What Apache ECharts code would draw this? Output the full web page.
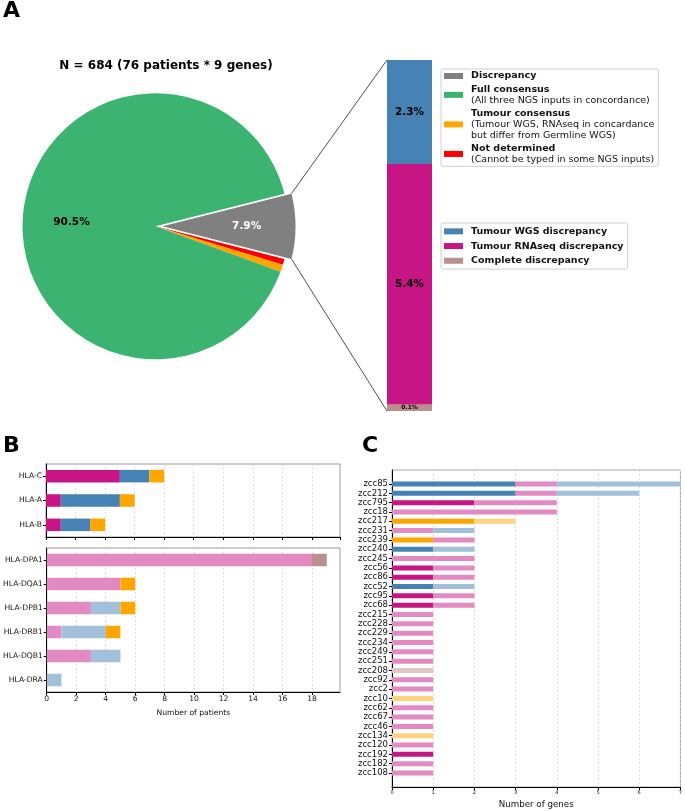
<!DOCTYPE html>
<html>
<head>
<meta charset="utf-8">
<script src="https://cdn.jsdelivr.net/npm/echarts@6/dist/echarts.min.js"></script>
<style>
html,body{margin:0;padding:0;background:#fff;}
#main{width:685px;height:811px;}
</style>
</head>
<body>
<div id="main"></div>
<script>
// ---------- Panel A data ----------
const pieNames = ['Discrepancy', 'Not determined', 'Tumour consensus', 'Full consensus'];
const pieValues = [54, 5, 6, 619];
const pieColors = ['#808080', '#FF0000', '#FFA500', '#3CB371'];
const pieLegendOrder = ['Discrepancy', 'Full consensus', 'Tumour consensus', 'Not determined'];
const pieSubtitles = {
  'Discrepancy': [],
  'Full consensus': ['(All three NGS inputs in concordance)'],
  'Tumour consensus': ['(Tumour WGS, RNAseq in concardance', 'but differ from Germline WGS)'],
  'Not determined': ['(Cannot be typed in some NGS inputs)']
};
const discNames = ['Complete discrepancy', 'Tumour RNAseq discrepancy', 'Tumour WGS discrepancy'];
const discValues = [1, 37, 16];
const discColors = ['#BC8F8F', '#C71585', '#4682B4'];
const totalN = 684;

// ---------- Panel B data ----------
const genesI = ['HLA-C', 'HLA-A', 'HLA-B'];
const bI_RNA = [5, 1, 1];
const bI_WGS = [2, 4, 2];
const bI_TC  = [1, 1, 1];
const genesII = ['HLA-DPA1', 'HLA-DQA1', 'HLA-DPB1', 'HLA-DRB1', 'HLA-DQB1', 'HLA-DRA'];
const bII_RNA = [18, 5, 3, 1, 3, 0];
const bII_WGS = [0, 0, 2, 3, 2, 1];
const bII_TC  = [0, 1, 1, 1, 0, 0];
const bII_CD  = [1, 0, 0, 0, 0, 0];

// ---------- Panel C data ----------
const patients = ['zcc85','zcc212','zcc795','zcc18','zcc217','zcc231','zcc239','zcc240','zcc245','zcc56','zcc86','zcc52','zcc95','zcc68','zcc215','zcc228','zcc229','zcc234','zcc249','zcc251','zcc208','zcc92','zcc2','zcc10','zcc62','zcc67','zcc46','zcc134','zcc120','zcc192','zcc182','zcc108'];
const cI_WGS  = [3,3,0,0,0,0,0,1,0,0,0,1,0,0,0,0,0,0,0,0,0,0,0,0,0,0,0,0,0,0,0,0];
const cI_RNA  = [0,0,2,0,0,0,0,0,0,1,1,0,1,1,0,0,0,0,0,0,0,0,0,0,0,0,0,0,0,1,0,0];
const cI_TC   = [0,0,0,0,2,0,1,0,0,0,0,0,0,0,0,0,0,0,0,0,0,0,0,0,0,0,0,0,0,0,0,0];
const cII_RNA = [1,1,2,4,0,1,1,0,2,1,1,0,1,1,1,1,1,1,1,1,0,1,1,0,1,1,1,0,1,0,1,1];
const cII_WGS = [3,2,0,0,0,1,0,1,0,0,0,1,0,0,0,0,0,0,0,0,0,0,0,0,0,0,0,0,0,0,0,0];
const cII_TC  = [0,0,0,0,1,0,0,0,0,0,0,0,0,0,0,0,0,0,0,0,0,0,0,1,0,0,0,1,0,0,0,0];
const cII_CD  = [0,0,0,0,0,0,0,0,0,0,0,0,0,0,0,0,0,0,0,0,1,0,0,0,0,0,0,0,0,0,0,0];

// ---------- styles ----------
const FONT = 'DejaVu Sans';
const C_WGS = '#4682B4', C_RNA = '#C71585', C_TC = '#FFA500', C_CD = '#BC8F8F';
const L_WGS = '#A2C0D9', L_RNA = '#E38AC2', L_TC = '#FFD27F', L_CD = '#DDC7C7';

const pieCenter = [155.5, 226.3];
const pieR = 133;
const discAngle = pieValues[0] / totalN * 360;
const startAng = discAngle / 2;
const explode = 7;
const pct = v => (v / totalN * 100).toFixed(1) + '%';

const pad = arr => [0].concat(arr, [0]);
const patCats = [''].concat(patients, ['']);

function gridAxisX(gi, max, showLabels, name) {
  return {
    type: 'value', gridIndex: gi, min: 0, max: max, interval: gi === 3 ? 1 : 2,
    axisLine: {show: true, onZero: false, lineStyle: {color: '#000', width: 1}},
    axisTick: {show: true, length: 3, lineStyle: {color: '#000'}},
    axisLabel: {show: showLabels, fontFamily: FONT, fontSize: gi === 3 ? 5 : 7.6, color: '#111', margin: 3, showMaxLabel: gi === 3},
    splitLine: {show: true, lineStyle: {color: '#d4d4d4', type: [2, 2], width: 0.8}},
    name: name || '', nameLocation: 'middle', nameGap: gi === 3 ? 13 : 17,
    nameTextStyle: {fontFamily: FONT, fontSize: gi === 3 ? 8.7 : 7.6, color: '#111'}
  };
}
function catAxisY(gi, data, fs) {
  return {
    type: 'category', gridIndex: gi, data: data, inverse: true,
    axisLine: {show: true, lineStyle: {color: '#000', width: 1}},
    axisTick: {show: true, length: 3, alignWithLabel: true, lineStyle: {color: '#000'},
      interval: (i, v) => v !== ''},
    axisLabel: {interval: 0, fontFamily: FONT, fontSize: fs, color: '#111', margin: 4},
    splitLine: {show: false}
  };
}

const option = {
  animation: false,
  backgroundColor: '#fff',
  textStyle: {fontFamily: FONT},
  title: [
    {text: 'A', left: 3, top: 0, padding: 0, textStyle: {fontFamily: FONT, fontSize: 22, fontWeight: 'bold', color: '#000'}},
    {text: 'B', left: 3, top: 435, padding: 0, textStyle: {fontFamily: FONT, fontSize: 22, fontWeight: 'bold', color: '#000'}},
    {text: 'C', left: 362, top: 435, padding: 0, textStyle: {fontFamily: FONT, fontSize: 22, fontWeight: 'bold', color: '#000'}},
    {text: 'N = ' + totalN + ' (76 patients * 9 genes)', left: 166, textAlign: 'center', top: 60, padding: 0,
      textStyle: {fontFamily: FONT, fontSize: 12, fontWeight: 'bold', color: '#000'}}
  ],
  legend: [
    {
      data: pieLegendOrder, orient: 'vertical', left: 441, top: 69,
      padding: [2, 4, 2, 3], itemGap: 3.5, itemWidth: 19, itemHeight: 6, icon: 'rect',
      borderColor: '#d0d0d0', borderWidth: 1, borderRadius: 2, selectedMode: false,
      formatter: n => ['{b|' + n + '}'].concat(pieSubtitles[n].map(s => '{n|' + s + '}')).join('\n'),
      textStyle: {padding: [0, 0, 0, 3], rich: {
        b: {fontFamily: FONT, fontSize: 9.5, fontWeight: 'bold', color: '#111', lineHeight: 10.7},
        n: {fontFamily: FONT, fontSize: 9.5, color: '#111', lineHeight: 10.7}}}
    },
    {
      data: discNames.slice().reverse(), orient: 'vertical', left: 441, top: 223,
      padding: [3, 4, 3, 3], itemGap: 4, itemWidth: 19, itemHeight: 6, icon: 'rect',
      borderColor: '#d0d0d0', borderWidth: 1, borderRadius: 2, selectedMode: false,
      textStyle: {fontFamily: FONT, fontSize: 9.5, fontWeight: 'bold', color: '#111', padding: [0, 0, 0, 3], lineHeight: 10.7}
    }
  ],
  grid: [
    {left: 387, top: 60, width: 45, height: 351},
    {left: 46, right: 345, top: 464, height: 73, show: true, borderColor: '#999', borderWidth: 1},
    {left: 46, right: 345, top: 548, height: 144, show: true, borderColor: '#999', borderWidth: 1},
    {left: 392, right: 2, top: 470, height: 317, show: true, borderColor: '#aaa', borderWidth: 1}
  ],
  xAxis: [
    {type: 'category', gridIndex: 0, data: [''], show: false},
    gridAxisX(1, 19.9, false),
    gridAxisX(2, 19.9, true, 'Number of patients'),
    gridAxisX(3, 7, true, 'Number of genes')
  ],
  yAxis: [
    {type: 'value', gridIndex: 0, min: 0, max: discValues.reduce((a, b) => a + b, 0), show: false},
    catAxisY(1, genesI, 7.6),
    catAxisY(2, genesII, 7.6),
    catAxisY(3, patCats, 8.5)
  ],
  series: [
    {
      type: 'pie', name: 'pie', center: pieCenter, radius: pieR, startAngle: startAng, clockwise: true,
      selectedMode: 'single', selectedOffset: explode, silent: true,
      label: {show: false}, labelLine: {show: false},
      emphasis: {disabled: true},
      data: pieNames.map((n, i) => ({name: n, value: pieValues[i], selected: i === 0, itemStyle: {color: pieColors[i]}}))
    },
    {
      type: 'pie', name: 'pieLabels', center: pieCenter, radius: pieR * 1.22, startAngle: startAng, clockwise: true,
      selectedMode: 'single', selectedOffset: explode, silent: true, z: 5,
      emphasis: {disabled: true}, labelLine: {show: false},
      itemStyle: {color: 'rgba(0,0,0,0)'},
      data: pieNames.map((n, i) => ({
        name: 'lbl' + i, value: pieValues[i], selected: i === 0,
        label: {show: i === 0 || i === 3, position: 'inside', formatter: () => pct(pieValues[i]),
          fontFamily: FONT, fontSize: 10.5, fontWeight: 'bold', color: i === 0 ? '#fff' : '#000'}
      }))
    }
  ].concat(discNames.map((n, i) => ({
    type: 'bar', name: n, xAxisIndex: 0, yAxisIndex: 0, stack: 'disc', barWidth: '100%',
    itemStyle: {color: discColors[i]}, silent: true,
    label: {show: true, position: 'inside', formatter: () => pct(discValues[i]),
      fontFamily: FONT, fontWeight: 'bold', fontSize: i === 0 ? 6 : 10.5, color: '#000'},
    data: [discValues[i]]
  }))).concat([
    [bI_RNA, C_RNA], [bI_WGS, C_WGS], [bI_TC, C_TC]
  ].map((d, k) => ({
    type: 'bar', name: 'BI' + k, xAxisIndex: 1, yAxisIndex: 1, stack: 'bI', barWidth: 12.5, silent: true,
    itemStyle: {color: d[1]}, data: d[0]
  }))).concat([
    [bII_RNA, L_RNA], [bII_WGS, L_WGS], [bII_TC, C_TC], [bII_CD, C_CD]
  ].map((d, k) => ({
    type: 'bar', name: 'BII' + k, xAxisIndex: 2, yAxisIndex: 2, stack: 'bII', barWidth: 12.5, silent: true,
    itemStyle: {color: d[1]}, data: d[0]
  }))).concat([
    [cI_WGS, C_WGS], [cI_RNA, C_RNA], [cI_TC, C_TC], [cII_RNA, L_RNA], [cII_WGS, L_WGS], [cII_TC, L_TC], [cII_CD, L_CD]
  ].map((d, k) => ({
    type: 'bar', name: 'C' + k, xAxisIndex: 3, yAxisIndex: 3, stack: 'c', barWidth: 5, silent: true,
    itemStyle: {color: d[1]}, data: pad(d[0])
  })))
};

const chart = echarts.init(document.getElementById('main'), null, {renderer: 'canvas'});
chart.setOption(option);

// zoom lines from the exploded wedge to the stacked bar
(function () {
  const model = chart.getModel();
  const lay = model.getSeriesByIndex(0).getData().getItemLayout(0);
  const mid = (lay.startAngle + lay.endAngle) / 2;
  const ox = Math.cos(mid) * explode, oy = Math.sin(mid) * explode;
  const p1 = [lay.cx + ox + lay.r * Math.cos(lay.startAngle), lay.cy + oy + lay.r * Math.sin(lay.startAngle)];
  const p2 = [lay.cx + ox + lay.r * Math.cos(lay.endAngle), lay.cy + oy + lay.r * Math.sin(lay.endAngle)];
  const rect = model.getComponent('grid', 0).coordinateSystem.getRect();
  const topPt = p1[1] < p2[1] ? p1 : p2, botPt = p1[1] < p2[1] ? p2 : p1;
  chart.setOption({
    graphic: [
      {type: 'line', silent: true, z: 10, shape: {x1: topPt[0], y1: topPt[1], x2: rect.x, y2: rect.y}, style: {stroke: '#222', lineWidth: 0.8}},
      {type: 'line', silent: true, z: 10, shape: {x1: botPt[0], y1: botPt[1], x2: rect.x, y2: rect.y + rect.height}, style: {stroke: '#222', lineWidth: 0.8}}
    ]
  });
})();
</script>
</body>
</html>
